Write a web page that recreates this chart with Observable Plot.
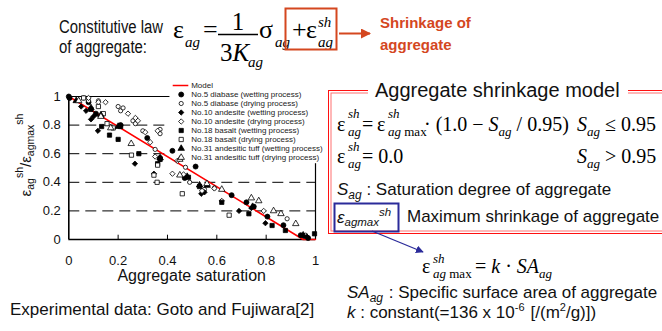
<!DOCTYPE html>
<html><head><meta charset="utf-8">
<script src="https://cdn.jsdelivr.net/npm/d3@7"></script>
<script src="https://cdn.jsdelivr.net/npm/@observablehq/plot@0.6"></script>
<style>
html,body{margin:0;padding:0;background:#fff}
#wrap{position:relative;width:662px;height:331px;overflow:hidden;background:#fff}
#chart{position:absolute;left:0;top:70px}
#legend{position:absolute;left:170px;top:78px}
#ann{position:absolute;left:0;top:0}
.sans{font-family:"Liberation Sans",Arial,sans-serif}
.serif{font-family:"Liberation Serif","Times New Roman",serif}
</style></head><body>
<div id="wrap">
<div id="chart"></div>
<div id="legend"></div>
<svg id="ann" width="662" height="331" xmlns="http://www.w3.org/2000/svg">
<defs>
<marker id="arR" viewBox="0 0 10 10" refX="9" refY="5" markerWidth="5" markerHeight="5" orient="auto"><path d="M0,0L10,5L0,10z" fill="#d4471f"/></marker>
<marker id="arB" viewBox="0 0 10 10" refX="9" refY="5" markerWidth="6" markerHeight="6" orient="auto"><path d="M0,0L10,5L0,10z" fill="#2b2b9a"/></marker>
</defs>
<!-- top equation -->
<text class="sans" x="59" y="33" font-size="18" fill="#111" textLength="104" lengthAdjust="spacingAndGlyphs">Constitutive law</text>
<text class="sans" x="59" y="53" font-size="18" fill="#111" textLength="88" lengthAdjust="spacingAndGlyphs">of aggregate:</text>
<g class="serif" fill="#000">
<text x="173" y="38" font-size="26">ε</text>
<text x="185" y="47" font-size="15" font-style="italic">ag</text>
<text x="203" y="38" font-size="26">=</text>
<text x="238" y="30" font-size="25" text-anchor="middle">1</text>
<line x1="218" y1="34.5" x2="258" y2="34.5" stroke="#000" stroke-width="1.3"/>
<text x="220" y="61" font-size="25">3<tspan font-style="italic">K</tspan></text>
<text x="248" y="67" font-size="15" font-style="italic">ag</text>
<text x="259" y="38" font-size="26">σ</text>
<text x="275" y="47" font-size="15" font-style="italic">ag</text>
<text x="292" y="38" font-size="26">+</text>
<text x="306" y="38" font-size="26">ε</text>
<text x="318" y="27" font-size="15" font-style="italic">sh</text>
<text x="318" y="47" font-size="15" font-style="italic">ag</text>
</g>
<rect x="285.5" y="8.5" width="51" height="41" fill="none" stroke="#d4471f" stroke-width="2"/>
<line x1="339" y1="33.5" x2="370" y2="33.5" stroke="#d4471f" stroke-width="2" marker-end="url(#arR)"/>
<text class="sans" x="380" y="28" font-size="15" font-weight="bold" fill="#d4471f">Shrinkage of</text>
<text class="sans" x="380" y="50" font-size="15" font-weight="bold" fill="#d4471f">aggregate</text>

<!-- axis labels -->
<text class="sans" x="191.7" y="281" font-size="16" text-anchor="middle" fill="#111">Aggregate saturation</text>
<text class="sans" transform="translate(31,155) rotate(-90)" font-size="15" text-anchor="middle" fill="#111">ε<tspan font-size="10.5" dy="3">ag</tspan><tspan font-size="10.5" dy="-11">sh</tspan><tspan dy="8">/ε</tspan><tspan font-size="10.5" dy="3">agmax</tspan><tspan font-size="10.5" dy="-11">sh</tspan></text>
<text class="sans" x="10" y="315" font-size="17" fill="#111">Experimental data: Goto and Fujiwara[2]</text>

<!-- right panel box -->
<rect x="328.5" y="90.5" width="340" height="143" fill="none" stroke="#ff1010" stroke-width="1"/>
<rect x="331" y="93" width="335" height="138" fill="none" stroke="#ff7070" stroke-width="1"/>
<rect x="368" y="80" width="260" height="20" fill="#fff"/>
<text class="sans" x="375" y="96.7" font-size="20" fill="#111">Aggregate shrinkage model</text>
<g class="serif" fill="#000">
<text x="337" y="131" font-size="20">ε</text>
<text x="348" y="118" font-size="13" font-style="italic">sh</text>
<text x="348" y="136" font-size="13" font-style="italic">ag</text>
<text x="362" y="131" font-size="20">=</text>
<text x="377" y="131" font-size="20">ε</text>
<text x="388" y="118" font-size="13" font-style="italic">sh</text>
<text x="388" y="136" font-size="13"><tspan font-style="italic">ag</tspan> max</text>
<text x="424" y="131" font-size="20">· (1.0 − <tspan font-style="italic">S</tspan><tspan font-size="13" font-style="italic" dy="5">ag</tspan><tspan dy="-5"> / 0.95)</tspan></text>
<text x="577" y="131" font-size="20"><tspan font-style="italic">S</tspan><tspan font-size="13" font-style="italic" dy="5">ag</tspan><tspan dy="-5"> ≤ 0.95</tspan></text>
<text x="337" y="163" font-size="20">ε</text>
<text x="348" y="151" font-size="13" font-style="italic">sh</text>
<text x="348" y="168" font-size="13" font-style="italic">ag</text>
<text x="362" y="163" font-size="20">= 0.0</text>
<text x="577" y="163" font-size="20"><tspan font-style="italic">S</tspan><tspan font-size="13" font-style="italic" dy="5">ag</tspan><tspan dy="-5"> &gt; 0.95</tspan></text>
</g>
<text class="sans" x="337" y="195" font-size="17" fill="#111"><tspan font-style="italic">S</tspan><tspan font-size="12" font-style="italic" dy="4">ag</tspan><tspan dy="-4"> : Saturation degree of aggregate</tspan></text>
<rect x="334.5" y="203.5" width="64" height="28" fill="none" stroke="#2b2b9a" stroke-width="2"/>
<text class="sans" x="337" y="223" font-size="17" font-style="italic" fill="#111">ε<tspan font-size="11.5" dy="3">agmax</tspan><tspan font-size="11.5" dy="-10">sh</tspan></text>
<text class="sans" x="407" y="222" font-size="17" fill="#111">Maximum shrinkage of aggregate</text>
<line x1="372" y1="231" x2="423" y2="252" stroke="#2b2b9a" stroke-width="1.3" marker-end="url(#arB)"/>
<g class="serif" fill="#000">
<text x="422" y="273" font-size="20">ε</text>
<text x="433" y="263" font-size="13" font-style="italic">sh</text>
<text x="433" y="278" font-size="13"><tspan font-style="italic">ag</tspan> max</text>
<text x="475" y="273" font-size="20">= <tspan font-style="italic">k</tspan> · <tspan font-style="italic">SA</tspan><tspan font-size="13" font-style="italic" dy="5">ag</tspan></text>
</g>
<text class="sans" x="347" y="298" font-size="17" fill="#111"><tspan font-style="italic">SA</tspan><tspan font-size="12" font-style="italic" dy="4">ag</tspan><tspan dy="-4" dx="1"> : Specific surface area of aggregate</tspan></text>
<text class="sans" x="347" y="318" font-size="17" fill="#111"><tspan font-style="italic">k</tspan> : constant(=136 x 10<tspan font-size="11" dy="-7">-6</tspan><tspan dy="7" dx="6">[/(m</tspan><tspan font-size="11" dy="-7">2</tspan><tspan dy="7">/g)])</tspan></text>
</svg>
</div>
<script>
// ---- data ----
const seriesNames = [
  "No.5 diabase (wetting process)",
  "No.5 diabase (drying process)",
  "No.10 andesite (wetting process)",
  "No.10 andesite (drying process)",
  "No.18 basalt (wetting process)",
  "No.18 basalt (drying process)",
  "No.31 andesitic tuff (wetting process)",
  "No.31 andesitic tuff (drying process)"
];
const seriesSymbols = ["circle","circle","diamond2","diamond2","square","square","triangle","triangle"];
const seriesFilled = [true,false,true,false,true,false,true,false];

const diabaseWet = [[0,1.0],[0.003,0.99],[0.08,0.96],[0.11,0.88],[0.21,0.80],[0.318,0.71],[0.37,0.57],[0.42,0.62],[0.47,0.43],[0.514,0.51],[0.66,0.31],[0.72,0.26],[0.75,0.23],[0.805,0.16],[0.87,0.10],[0.94,0.03],[0.955,0.025],[0.97,0.01]];
const diabaseDry = [[0.06,0.99],[0.08,0.97],[0.12,0.97],[0.20,0.93],[0.21,0.90],[0.22,0.92],[0.26,0.83],[0.27,0.81],[0.30,0.76],[0.35,0.63],[0.37,0.77],[0.37,0.74],[0.473,0.505],[0.49,0.40],[0.55,0.35],[0.59,0.36],[0.885,0.145],[0.96,0.03]];
const andesiteWet = [[0.05,0.93],[0.07,0.90],[0.09,0.84],[0.10,0.86],[0.118,0.76],[0.268,0.53],[0.345,0.46],[0.37,0.56],[0.537,0.32],[0.55,0.33],[0.69,0.20],[0.74,0.22],[0.797,0.114],[0.965,0.02]];
const andesiteDry = [[0.08,0.99],[0.12,0.96],[0.149,0.96],[0.24,0.88],[0.27,0.85],[0.28,0.83],[0.31,0.75],[0.33,0.68],[0.35,0.58],[0.36,0.76],[0.42,0.46],[0.44,0.55],[0.465,0.455],[0.54,0.34],[0.59,0.357],[0.62,0.27],[0.79,0.20]];
const basaltWet = [[0.09,0.91],[0.133,0.79],[0.165,0.73],[0.20,0.70],[0.21,0.79],[0.284,0.60],[0.36,0.53],[0.37,0.56],[0.485,0.435],[0.53,0.37],[0.62,0.26],[0.73,0.18],[0.824,0.098],[0.878,0.063],[0.996,0.04]];
const basaltDry = [[0.06,0.99],[0.12,0.93],[0.14,0.88],[0.155,0.81],[0.18,0.78],[0.254,0.59],[0.345,0.45],[0.358,0.40],[0.36,0.52],[0.46,0.32],[0.65,0.17]];
const tuffWet = [[0.03,0.97],[0.09,0.92],[0.13,0.87],[0.20,0.79],[0.37,0.57],[0.48,0.44],[0.53,0.38],[0.561,0.378],[0.745,0.23],[0.95,0.03]];
const tuffDry = [[0.04,0.97],[0.13,0.86],[0.17,0.78],[0.253,0.67],[0.45,0.56],[0.45,0.45],[0.56,0.39],[0.62,0.35],[0.74,0.29],[0.77,0.27],[0.83,0.20],[0.86,0.18],[0.92,0.11]];
const seriesData = [diabaseWet, diabaseDry, andesiteWet, andesiteDry, basaltWet, basaltDry, tuffWet, tuffDry];

const modelX = [0, 0.95, 1.0];
const modelY = [1, 0, 0];

const xTicks = [0, 0.2, 0.4, 0.6, 0.8, 1];
const xTickLabels = ["0", "0.2", "0.4", "0.6", "0.8", "1"];
const yTicks = [0, 0.2, 0.4, 0.6, 0.8, 1];
const yTickLabels = ["0", "0.2", "0.4", "0.6", "0.8", "1"];
const gridY = [0.2, 0.4, 0.6, 0.8];
const legendEdgeX = 0.41;    // where the legend box hides the frame/grid
const legendBottomY = 0.53;

// ---- main chart ----
const dotMarks = seriesData.map((data, i) => Plot.dot(data, {
  x: d => d[0], y: d => d[1],
  symbol: seriesSymbols[i],
  r: seriesSymbols[i] === "circle" ? (seriesFilled[i] ? 2.5 : 2.1) : 2.4,
  fill: seriesFilled[i] ? "#000" : "#fff",
  stroke: "#000", strokeWidth: 0.8
}));

const chart = Plot.plot({
  width: 340, height: 210,
  marginLeft: 68.3, marginRight: 25, marginTop: 26, marginBottom: 41,
  x: {domain: [0, 1]},
  y: {domain: [0, 1]},
  style: {fontFamily: '"Liberation Sans", Arial, sans-serif', fontSize: "13px", color: "#111", background: "transparent"},
  marks: [
    Plot.ruleY(gridY, {x1: 0, x2: d => d >= 0.6 ? legendEdgeX : 1, stroke: "#000", strokeDasharray: "11,6", strokeWidth: 1}),
    Plot.ruleY([1], {x1: 0, x2: legendEdgeX, stroke: "#000", strokeWidth: 1.2}),
    Plot.ruleX([1], {y1: 0, y2: legendBottomY, stroke: "#000", strokeWidth: 1.2}),
    Plot.ruleX(xTicks.slice(1, -1), {y1: 0, y2: 0.03, stroke: "#000", strokeWidth: 1}),
    Plot.ruleY([0], {x1: 0, x2: 1, stroke: "#000", strokeWidth: 1.6}),
    Plot.ruleX([0], {y1: 0, y2: 1, stroke: "#000", strokeWidth: 1.6}),
    Plot.axisX({ticks: xTicks, tickFormat: d => xTickLabels[xTicks.indexOf(d)], tickSize: 0, tickPadding: 16, label: null}),
    Plot.axisY({ticks: yTicks, tickFormat: d => yTickLabels[yTicks.indexOf(d)], tickSize: 0, tickPadding: 8, label: null}),
    Plot.line(modelX.map((x, i) => ({x, y: modelY[i]})), {x: "x", y: "y", stroke: "#ff0000", strokeWidth: 1.5}),
    ...dotMarks
  ]
});
document.getElementById("chart").appendChild(chart);

// ---- legend ----
const legendNames = ["Model", ...seriesNames];
const legend = Plot.plot({
  width: 170, height: 90, margin: 0, axis: null,
  x: {type: "identity"},
  y: {type: "point", domain: legendNames, range: [5.3, 80.3], padding: 0},
  style: {fontFamily: '"Liberation Sans", Arial, sans-serif', background: "transparent"},
  marks: [
    Plot.ruleY(["Model"], {y: d => d, x1: 2.7, x2: 18.3, stroke: "#ff0000", strokeWidth: 1.5}),
    ...seriesNames.map((n, i) => Plot.dot([n], {
      x: 10.7, y: d => d, symbol: seriesSymbols[i],
      r: seriesSymbols[i] === "circle" ? (seriesFilled[i] ? 2.5 : 2.1) : 2.4,
      fill: seriesFilled[i] ? "#000" : "#fff", stroke: "#000", strokeWidth: 0.8
    })),
    Plot.text(legendNames, {x: 20.7, y: d => d, text: d => d, textAnchor: "start", fontSize: 8, fill: "#222"})
  ]
});
document.getElementById("legend").appendChild(legend);
</script>
</body></html>
